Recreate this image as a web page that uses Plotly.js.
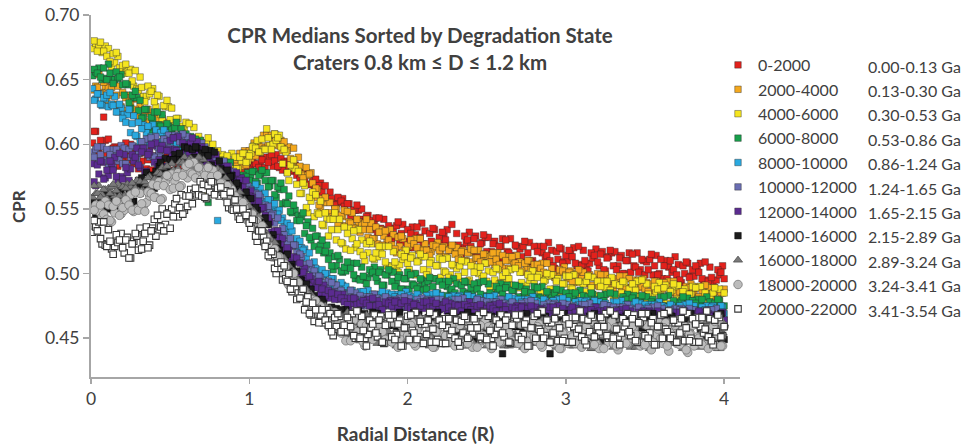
<!DOCTYPE html>
<html>
<head>
<meta charset="utf-8">
<script src="https://cdn.plot.ly/plotly-3.0.1.min.js"></script>
<style>html,body{margin:0;padding:0;background:#fff;}#chart{width:968px;height:446px;}</style>
</head>
<body>
<div id="chart"></div>
<script>
// Radial sampling: points every 0.01 R. "Even" arrays sit at 0.02,0.04,...,4.00;
// "Mid" arrays sit at 0.01,0.03,...,3.99.
const radialStep = 0.02;
const pointCount = 200;

// Legend labels
const stateNames = ['0-2000','2000-4000','4000-6000','6000-8000','8000-10000','10000-12000','12000-14000','14000-16000','16000-18000','18000-20000','20000-22000'];
const ageRanges = ['0.00-0.13 Ga','0.13-0.30 Ga','0.30-0.53 Ga','0.53-0.86 Ga','0.86-1.24 Ga','1.24-1.65 Ga','1.65-2.15 Ga','2.15-2.89 Ga','2.89-3.24 Ga','3.24-3.41 Ga','3.41-3.54 Ga'];

// CPR medians (x1000)
const cpr0_2000 = [
610,596,603,621,593, 590,597,584,593,597, 601,590,585,594,581, 587,598,588,580,591,
588,577,590,582,577, 580,590,592,579,584, 589,583,577,589,573, 578,570,584,582,577,
582,574,580,585,577, 578,584,578,585,588, 590,585,582,588,582, 586,592,587,583,589,
586,578,586,580,576, 573,578,578,569,572, 573,568,563,568,557, 558,553,559,556,552,
554,544,549,553,542, 540,544,535,541,543, 543,534,530,537,527, 529,540,531,524,534,
531,520,536,528,523, 519,531,535,522,528, 532,526,521,538,518, 522,513,529,526,521,
527,513,523,530,517, 514,523,511,521,527, 526,516,512,522,510, 513,525,516,509,521,
517,507,521,514,510, 506,517,520,508,514, 518,513,508,521,506, 510,502,516,514,509,
515,503,512,518,506, 503,512,500,510,516, 515,505,501,511,499, 503,515,506,499,511,
506,496,510,503,499, 495,506,509,497,503, 506,501,496,509,494, 497,489,503,501,496];
const cpr0_2000Mid = [
601,610,593,602,603, 604,591,598,583,591, 587,591,600,586,592, 593,594,581,595,580,
578,591,585,580,591, 592,577,583,590,579, 581,586,589,574,574, 586,574,576,580,587,
576,584,573,581,584, 587,580,586,579,585, 581,585,591,584,589, 590,590,583,592,582,
580,587,583,579,584, 580,571,573,577,569, 568,569,570,559,558, 563,555,554,555,558,
548,554,542,549,549, 550,540,545,534,539, 532,535,542,531,535, 535,537,525,538,525,
520,536,530,526,539, 533,517,525,534,523, 523,529,534,518,519, 531,517,520,524,532,
517,529,512,524,528, 528,517,525,511,521, 512,517,527,514,521, 519,521,509,524,510,
507,521,516,512,524, 518,504,511,519,509, 510,516,520,506,507, 518,506,508,512,519,
506,517,502,513,516, 517,506,514,500,510, 501,506,516,503,510, 509,511,499,514,500,
496,510,505,501,513, 507,493,500,508,498, 498,504,508,494,495, 505,493,495,499,506];
const cpr2000_4000 = [
656,644,639,648,634, 638,648,638,630,640, 636,624,636,627,621, 617,626,627,613,617,
620,613,606,617,600, 604,595,607,603,597, 602,588,596,601,587, 583,591,578,587,592,
590,583,580,587,578, 583,593,588,584,595, 596,591,602,598,597, 599,607,608,599,603,
602,595,589,597,582, 583,574,582,577,570, 566,553,558,559,547, 544,550,539,545,549,
548,539,535,542,532, 534,542,534,527,536, 532,522,533,526,522, 519,528,529,518,522,
526,523,520,527,518, 518,514,522,521,518, 520,513,518,522,515, 511,517,510,516,519,
518,512,509,515,508, 509,516,511,507,514, 510,504,513,508,506, 502,508,510,503,507,
507,504,501,508,499, 499,495,503,502,499, 501,494,499,503,496, 492,498,491,497,500,
499,493,490,496,489, 491,498,493,489,496, 492,486,495,490,488, 486,492,494,487,491,
493,490,487,494,485, 486,482,490,489,486, 489,482,487,491,484, 480,486,479,485,488];
const cpr2000_4000Mid = [
642,645,654,640,645, 644,644,631,645,629, 626,638,631,625,635, 629,613,618,624,612,
612,616,618,602,601, 612,598,599,602,607, 593,602,586,596,597, 597,585,592,577,586,
580,583,590,581,586, 587,590,583,595,587, 589,601,599,597,607, 607,597,602,607,599,
595,597,598,585,583, 590,577,576,576,578, 559,565,550,555,555, 555,545,550,538,544,
537,540,547,536,540, 538,539,528,539,527, 523,534,529,524,534, 530,516,521,527,517,
521,524,527,518,519, 523,516,517,520,524, 515,521,512,519,521, 520,513,518,510,516,
509,512,518,511,515, 513,514,507,516,507, 504,513,510,507,514, 509,501,505,510,504,
502,505,508,499,500, 504,497,498,501,505, 496,502,493,500,502, 501,494,499,491,497,
490,493,499,492,496, 495,496,489,498,489, 486,495,492,489,496, 493,485,489,494,488,
488,491,494,485,486, 491,484,485,488,492, 484,490,481,488,490, 489,482,487,479,485];
const cpr4000_6000 = [
680,672,679,672,668, 664,670,671,659,661, 662,655,649,657,642, 644,633,645,641,633,
638,623,630,634,619, 614,620,606,614,617, 616,604,598,606,592, 560,605,594,585,595,
588,578,591,583,579, 581,590,593,586,591, 598,597,594,604,596, 605,596,608,605,598,
596,578,584,588,569, 562,570,551,559,563, 561,546,538,547,529, 534,547,534,524,536,
531,518,533,523,517, 514,523,525,512,516, 521,515,509,521,505, 509,501,515,513,508,
512,500,509,515,503, 499,508,496,506,512, 511,501,497,507,495, 498,510,501,494,506,
501,491,505,498,494, 490,501,504,492,498, 501,496,491,504,489, 493,485,499,497,492,
497,485,494,500,488, 485,494,482,492,498, 498,488,484,494,482, 486,498,489,482,494,
490,480,494,487,483, 480,491,494,482,488, 492,487,482,495,480, 484,476,490,488,483,
489,477,486,492,480, 477,486,474,484,490, 489,479,475,485,473, 477,489,480,473,485];
const cpr4000_6000Mid = [
674,678,676,671,676, 674,660,663,668,657, 655,657,658,645,643, 652,637,637,639,643,
629,637,620,629,629, 628,614,620,604,611, 602,605,613,598,603, 601,601,587,600,584,
578,592,586,582,593, 590,581,587,593,587, 593,599,603,594,596, 612,599,600,603,607,
585,594,572,582,581, 579,562,568,547,556, 544,547,556,537,543, 542,542,526,542,523,
519,535,527,520,534, 526,510,516,523,511, 513,518,521,506,506, 517,505,507,511,518,
503,514,499,510,513, 513,502,510,496,506, 497,502,512,499,506, 504,506,494,509,495,
491,505,500,496,508, 502,488,495,503,493, 493,499,503,489,490, 501,489,491,495,502,
488,499,484,495,498, 499,488,496,482,492, 484,489,499,486,493, 492,494,482,497,483,
480,494,489,485,497, 492,478,485,493,483, 484,490,494,480,481, 492,480,482,486,493,
480,491,476,487,490, 491,480,488,474,484, 475,480,490,477,484, 483,485,473,488,474];
const cpr6000_8000 = [
658,655,652,659,650, 655,647,656,652,646, 647,632,638,641,626, 620,627,613,621,625,
625,614,608,616,603, 606,617,606,597,608, 604,592,604,595,589, 585,555,595,581,585,
587,580,574,586,569, 572,568,576,575,572, 579,571,576,580,572, 567,572,561,567,570,
565,554,548,553,541, 541,547,537,528,535, 529,518,526,517,511, 506,513,514,502,505,
509,504,499,508,495, 498,492,503,501,497, 501,491,499,503,494, 490,497,488,496,501,
499,491,488,496,487, 488,497,490,484,494, 491,483,494,488,485, 482,491,494,484,489,
492,488,484,494,482, 485,479,490,488,484, 489,479,487,491,482, 479,486,477,485,490,
489,481,478,486,477, 479,488,481,475,485, 482,474,485,479,476, 473,482,485,475,480,
483,479,475,485,473, 477,471,482,480,476, 481,471,479,483,474, 471,478,469,477,482,
482,474,471,479,470, 473,482,475,469,479, 477,469,480,474,471, 468,477,480,470,475];
const cpr6000_8000Mid = [
653,656,659,650,651, 662,650,650,651,654, 638,646,628,636,636, 634,621,627,611,619,
611,615,623,609,614, 612,613,599,612,597, 594,606,599,593,603, 597,581,586,592,580,
579,583,586,571,570, 577,570,571,574,578, 574,579,570,577,578, 578,568,572,559,565,
554,555,560,547,549, 545,544,531,540,526, 521,529,522,516,522, 516,503,506,511,501,
502,506,508,496,496, 505,495,497,500,505, 494,503,491,499,502, 501,493,499,488,496,
488,492,500,490,495, 492,494,484,496,485, 483,494,490,487,496, 492,481,486,493,485,
485,490,493,482,483, 492,482,484,487,492, 482,491,479,487,490, 490,482,488,477,485,
478,482,490,480,485, 483,485,475,487,476, 474,485,481,478,487, 483,472,477,484,476,
476,481,484,473,474, 484,474,476,479,484, 474,483,471,479,482, 482,474,480,469,477,
471,475,483,473,478, 477,479,469,481,470, 469,480,476,473,482, 478,467,472,479,471];
const cpr8000_10000 = [
634,639,631,636,638, 640,630,625,631,620, 617,627,616,607,617, 612,601,614,606,601,
599,609,611,598,603, 607,601,595,607,591, 594,585,597,593,587, 591,577,584,588,541,
571,575,566,572,574, 574,567,563,568,560, 563,569,562,556,562, 557,548,554,546,541,
536,539,537,526,527, 525,518,512,516,503, 504,497,503,500,494, 496,488,491,493,485,
483,487,480,484,486, 486,481,479,484,478, 479,486,481,477,484, 482,477,484,480,478,
476,482,484,477,480, 483,480,478,485,477, 478,474,482,480,478, 482,475,480,483,477,
475,480,473,478,482, 482,477,475,480,474, 475,482,477,473,480, 478,473,480,476,474,
472,478,480,473,476, 479,476,474,481,473, 474,470,478,476,474, 478,471,476,479,473,
471,476,469,474,478, 478,473,471,476,470, 471,478,473,469,476, 474,469,476,472,470,
468,474,476,469,472, 475,472,470,477,469, 470,466,474,472,470, 474,467,472,475,469];
const cpr8000_10000Mid = [
643,635,639,630,635, 629,631,637,625,628, 623,623,609,622,606, 602,615,609,604,615,
611,596,602,609,598, 599,604,607,592,592, 602,588,589,592,597, 582,591,574,583,584,
581,571,576,565,570, 565,567,572,564,567, 567,566,558,566,555, 551,557,551,545,549,
543,532,532,533,524, 520,520,519,506,504, 509,499,498,499,500, 491,496,485,491,491,
490,483,487,478,483, 479,481,487,480,484, 483,484,477,485,478, 477,484,482,479,486,
483,475,479,483,478, 479,482,484,477,477, 483,476,477,480,483, 477,483,475,481,482,
482,476,481,473,479, 475,477,483,476,480, 479,480,473,481,474, 473,480,478,475,482,
479,471,475,479,474, 475,478,480,473,473, 479,472,473,476,479, 473,479,471,477,478,
478,472,477,469,475, 471,473,479,472,476, 475,476,469,477,470, 469,476,474,471,478,
475,467,471,475,470, 471,474,476,469,469, 475,468,469,472,475, 469,475,467,473,474];
const cpr10000_12000 = [
590,598,592,587,596, 592,582,596,589,585, 585,596,599,587,593, 602,597,592,605,590,
598,590,604,602,597, 605,593,602,608,596, 592,600,587,596,601, 598,590,585,590,580,
582,587,580,574,579, 574,565,572,565,560, 558,562,561,551,553, 552,545,539,543,530,
530,523,527,522,516, 515,505,507,508,498, 495,498,490,493,494, 493,486,483,487,479,
480,487,481,476,483, 480,475,482,478,476, 474,480,482,475,478, 480,477,475,482,474,
476,472,480,478,476, 479,472,477,480,474, 473,478,471,476,480, 480,475,473,478,472,
473,480,475,471,478, 476,471,478,474,472, 470,476,478,471,474, 477,474,472,479,471,
472,468,476,474,472, 476,469,474,477,471, 469,474,467,472,476, 476,471,469,474,468,
469,476,471,467,474, 472,467,474,470,468, 466,472,474,467,470, 473,470,468,475,467,
468,464,472,470,468, 472,465,470,473,467, 465,470,463,468,472, 472,467,465,444,464];
const cpr10000_12000Mid = [
594,596,587,598,588, 582,596,591,587,599, 597,583,590,598,588, 594,600,604,590,591,
606,594,596,600,607, 596,607,592,603,606, 606,594,601,586,595, 588,589,595,585,588,
586,585,576,583,572, 568,574,569,564,568, 565,555,556,559,550, 547,547,546,533,531,
535,525,522,521,522, 510,513,501,505,504, 502,494,497,487,491, 486,486,491,483,485,
484,484,477,485,477, 475,482,480,477,484, 481,473,477,481,476, 476,479,481,474,474,
481,474,475,478,481, 474,480,472,478,479, 480,474,479,471,477, 473,475,481,474,478,
477,478,471,479,472, 471,478,476,473,480, 477,469,473,477,472, 473,476,478,471,471,
477,470,471,474,477, 471,477,469,475,476, 476,470,475,467,473, 469,471,477,470,474,
473,474,467,475,468, 467,474,472,469,476, 473,465,469,473,468, 469,472,474,467,467,
473,466,467,470,473, 467,473,465,471,472, 472,466,471,463,469, 465,467,473,466,470];
const cpr12000_14000 = [
571,584,587,573,580, 587,580,575,593,573, 582,572,592,590,584, 594,579,592,600,586,
584,596,582,595,603, 605,595,591,601,589, 594,605,595,587,598, 593,584,593,585,581,
577,583,583,573,575, 578,572,567,572,560, 559,552,556,551,545, 543,532,533,533,522,
518,520,510,513,512, 508,501,496,498,490, 489,494,488,483,487, 485,480,484,481,478,
476,481,481,476,477, 479,477,475,481,475, 476,472,478,477,475, 478,473,477,479,474,
473,476,471,475,478, 478,474,473,477,472, 473,478,474,471,476, 475,471,476,474,472,
470,475,476,471,473, 475,473,471,477,471, 472,468,474,473,471, 474,469,473,475,470,
469,472,467,471,474, 474,470,469,473,468, 469,474,470,467,472, 471,467,472,470,468,
466,471,472,467,469, 471,469,467,473,467, 468,464,470,469,467, 470,465,469,471,466,
465,468,463,467,470, 470,466,465,469,464, 466,471,467,464,469, 467,463,468,466,464];
const cpr12000_14000Mid = [
585,568,577,586,574, 576,585,590,572,575, 592,578,581,587,597, 582,597,579,594,599,
601,588,599,583,596, 591,596,606,593,600, 600,601,588,602,587, 585,594,589,585,592,
586,574,577,580,571, 573,573,574,563,561, 564,554,551,550,551, 538,540,527,530,528,
527,517,518,506,509, 501,500,504,495,496, 493,492,484,491,482, 481,485,482,480,484,
481,474,477,480,475, 476,479,480,475,475, 479,474,475,476,479, 474,479,473,477,478,
478,474,477,471,475, 473,475,479,473,476, 475,476,471,477,472, 471,476,474,473,478,
475,469,472,475,471, 472,475,476,471,471, 475,470,471,472,475, 470,475,469,473,474,
474,470,473,467,471, 469,471,475,469,472, 471,472,467,473,468, 467,472,470,469,474,
471,465,468,471,467, 468,471,472,467,467, 471,466,467,468,471, 466,471,465,469,470,
470,466,469,463,467, 465,467,471,465,468, 468,469,464,470,465, 463,468,466,465,470];
const cpr14000_16000 = [
549,543,556,556,552, 558,549,558,564,554, 555,565,555,565,572, 574,566,565,576,566,
573,586,580,576,588, 588,580,593,588,586, 586,596,598,588,593, 596,591,584,594,580,
581,573,580,575,569, 570,558,561,563,551, 548,551,539,542,543, 538,527,520,523,510,
510,515,505,496,502, 495,485,492,484,478, 474,480,480,469,472, 474,469,464,472,460,
462,451,469,465,458, 467,451,463,470,455, 451,463,447,460,468, 468,455,450,463,448,
454,470,458,449,465, 461,448,466,457,451, 449,463,467,451,459, 466,459,453,470,450,
457,446,465,462,455, 465,449,461,468,438, 450,462,446,459,467, 467,454,449,462,447,
453,469,457,448,438, 460,447,465,456,450, 448,462,466,450,458, 465,458,452,469,449,
456,445,464,461,454, 464,448,460,467,452, 449,461,445,458,466, 467,454,449,462,447,
453,469,457,448,464, 460,447,465,456,450, 448,462,466,450,458, 465,458,452,469,449];
const cpr14000_16000Mid = [
556,546,549,554,561, 550,561,549,560,563, 567,559,568,556,567, 562,567,578,568,576,
579,583,574,589,579, 579,592,589,586,598, 597,584,590,597,588, 589,594,595,581,580,
587,575,574,574,576, 563,568,554,559,558, 558,547,549,535,539, 528,527,530,517,518,
514,513,500,507,494, 488,495,489,483,488, 483,471,474,477,468, 469,471,473,462,460,
472,456,458,463,471, 455,469,450,464,468, 469,455,466,447,460, 450,457,470,453,462,
462,465,449,468,450, 448,466,459,454,470, 465,446,455,466,453, 455,463,468,450,451,
467,451,454,459,468, 453,467,448,462,466, 468,454,465,446,459, 449,456,469,452,461,
461,464,448,467,449, 447,465,458,453,469, 464,445,454,465,452, 454,462,467,449,450,
466,450,453,458,467, 452,466,447,461,465, 467,453,464,445,458, 449,456,469,452,461,
461,464,448,467,449, 447,465,458,453,469, 464,445,454,465,452, 454,462,467,449,450];
const cpr16000_18000 = [
568,562,559,565,558, 562,569,564,560,567, 566,560,570,566,564, 564,571,574,568,573,
578,577,575,583,576, 580,577,586,586,584, 588,581,586,590,583, 579,584,575,579,581,
579,570,565,569,559, 559,563,555,548,552, 548,539,544,535,530, 524,526,524,513,513,
512,506,499,502,490, 490,483,488,484,478, 479,470,473,475,466, 462,467,457,464,467,
470,458,452,463,448, 453,468,457,449,463, 458,446,463,455,450, 447,460,463,449,456,
462,456,450,466,448, 454,444,461,459,453, 461,447,457,465,450, 448,459,444,456,463,
464,452,447,459,444, 450,465,454,446,460, 456,444,461,453,448, 446,459,462,448,455,
461,455,449,465,447, 453,443,460,458,452, 460,446,456,464,449, 446,457,442,454,461,
463,451,446,458,443, 449,464,453,445,459, 455,443,460,452,447, 445,458,461,447,454,
460,454,448,464,446, 452,442,459,457,451, 459,445,455,463,448, 446,457,442,454,461];
const cpr16000_18000Mid = [
559,562,568,561,565, 566,567,560,569,560, 560,569,567,565,572, 571,564,569,575,570,
573,578,582,574,577, 585,579,581,585,590, 583,589,580,587,589, 588,580,583,573,578,
570,570,574,565,566, 563,561,551,557,545, 542,548,541,534,538, 531,519,519,520,510,
507,507,506,493,491, 495,485,483,483,484, 474,478,467,472,472, 473,463,468,456,462,
453,458,470,454,462, 461,463,449,467,450, 446,463,457,452,467, 461,444,453,462,450,
453,460,465,448,449, 463,449,451,456,465, 450,463,445,459,462, 465,451,461,444,456,
447,453,465,449,458, 458,460,446,464,447, 444,461,455,450,465, 460,443,452,461,449,
452,459,464,447,448, 462,448,450,455,464, 449,462,444,458,461, 463,449,459,442,454,
446,452,464,448,457, 457,459,445,463,446, 443,460,454,449,464, 459,442,451,460,448,
451,458,463,446,447, 461,447,449,454,463, 448,461,443,458,461, 463,449,459,442,454];
const cpr18000_20000 = [
549,539,553,546,542, 541,552,556,545,551, 557,553,549,563,549, 554,548,563,562,559,
568,557,568,576,565, 566,575,567,576,583, 585,577,574,582,573, 576,582,575,569,576,
570,560,568,561,555, 551,556,555,543,545, 546,540,532,537,524, 522,513,519,513,506,
508,495,498,500,487, 483,486,475,479,480, 479,470,465,470,459, 460,470,461,454,463,
460,448,464,455,450, 447,460,463,449,456, 461,455,449,465,447, 453,443,460,458,452,
460,446,456,464,449, 447,458,443,455,462, 464,452,447,459,444, 449,465,454,446,461,
455,443,460,452,447, 445,458,461,447,454, 460,454,448,464,446, 452,442,459,457,451,
459,445,455,463,447, 446,457,442,454,461, 463,451,446,458,443, 449,464,453,445,459,
454,442,459,451,446, 444,457,460,446,453, 459,453,447,463,445, 451,441,459,457,450,
458,444,454,462,446, 445,457,441,453,460, 462,450,445,457,442, 447,463,452,444,459];
const cpr18000_20000Mid = [
539,553,548,544,556, 553,540,547,555,546, 549,556,561,548,550, 562,552,555,560,569,
559,571,558,571,575, 577,571,578,568,578, 574,578,586,576,581, 580,580,570,580,568,
563,570,565,560,565, 560,547,549,551,541, 541,542,541,527,524, 528,515,513,512,513,
501,505,491,496,494, 493,482,485,472,476, 469,470,475,464,467, 466,467,455,467,454,
448,465,458,453,467, 461,444,453,462,450, 452,459,464,447,448, 462,448,450,455,464,
449,462,444,458,461, 464,450,460,443,455, 447,453,465,449,458, 458,460,446,464,447,
443,460,454,448,464, 459,442,451,460,447, 451,458,463,446,446, 461,446,448,454,463,
448,461,443,457,460, 463,449,460,442,454, 446,452,464,448,458, 457,459,445,463,446,
442,460,453,447,463, 458,441,450,460,446, 450,458,462,444,445, 460,445,447,453,462,
446,462,440,457,460, 464,447,459,439,453, 444,451,465,446,457, 457,459,444,464,444];
const cpr20000_22000 = [
541,533,527,540,521, 525,515,530,526,520, 526,512,523,531,518, 519,531,520,533,542,
545,536,533,546,535, 544,558,551,546,560, 560,554,566,561,560, 559,568,571,561,566,
567,561,555,563,549, 550,542,550,545,539, 542,529,533,533,521, 514,517,504,508,509,
506,494,488,493,480, 481,488,478,469,477, 472,462,472,464,460, 455,466,469,455,460,
466,459,452,471,450, 456,444,464,461,454, 464,447,460,468,451, 449,461,444,458,467,
468,454,449,463,446, 453,470,457,447,464, 460,446,465,456,450, 447,463,467,450,458,
465,458,451,470,449, 456,444,464,461,454, 464,447,460,468,451, 449,461,444,458,467,
469,455,450,464,447, 454,471,458,448,465, 461,447,466,457,451, 448,464,468,451,459,
466,459,452,471,450, 457,445,465,462,455, 465,448,462,469,452, 450,462,445,459,468,
469,455,450,464,447, 454,471,458,448,465, 461,447,466,457,451, 448,464,468,451,459];
const cpr20000_22000Mid = [
532,536,540,523,522, 534,519,521,524,531, 516,528,512,525,529, 535,525,536,522,535,
529,537,550,538,547, 550,554,544,561,549, 552,565,562,560,571, 569,558,563,570,562,
560,563,564,551,550, 557,544,544,545,547, 535,541,525,529,529, 525,513,515,500,504,
495,496,500,486,488, 485,485,472,482,468, 463,473,468,462,472, 469,452,459,467,455,
455,464,469,450,451, 467,450,453,458,468, 451,467,446,461,465, 468,453,464,444,458,
449,456,470,451,461, 461,464,447,468,449, 446,465,458,453,470, 464,444,454,465,451,
454,463,468,449,450, 467,450,453,458,468, 451,467,446,461,465, 468,453,464,444,458,
450,457,471,452,462, 462,465,448,469,450, 447,466,459,454,471, 465,445,455,466,452,
455,464,469,450,451, 468,451,454,459,469, 452,468,447,462,466, 469,454,465,445,459,
450,457,471,452,462, 462,465,448,469,450, 447,466,459,454,471, 465,445,455,466,452];

const cprTickVals = [0.45, 0.50, 0.55, 0.60, 0.65, 0.70];
const radialTickVals = [0, 1, 2, 3, 4];

// ---- styling (not data) ----
const seriesEven = [cpr0_2000, cpr2000_4000, cpr4000_6000, cpr6000_8000, cpr8000_10000,
  cpr10000_12000, cpr12000_14000, cpr14000_16000, cpr16000_18000, cpr18000_20000, cpr20000_22000];
const seriesMid = [cpr0_2000Mid, cpr2000_4000Mid, cpr4000_6000Mid, cpr6000_8000Mid, cpr8000_10000Mid,
  cpr10000_12000Mid, cpr12000_14000Mid, cpr14000_16000Mid, cpr16000_18000Mid, cpr18000_20000Mid, cpr20000_22000Mid];
const edge = 'rgba(40,40,40,0.7)';
const styles = [
  {symbol:'square', size:6.5, color:'#e3211c', line:{color:edge, width:0.6}},
  {symbol:'square', size:6.5, color:'#f4a81d', line:{color:edge, width:0.6}},
  {symbol:'square', size:6.5, color:'#f5e51f', line:{color:edge, width:0.6}},
  {symbol:'square', size:6.5, color:'#17a04b', line:{color:edge, width:0.6}},
  {symbol:'square', size:6.5, color:'#29a9e0', line:{color:edge, width:0.6}},
  {symbol:'square', size:6.5, color:'#6a6eb3', line:{color:edge, width:0.6}},
  {symbol:'square', size:6.5, color:'#5b2b90', line:{color:edge, width:0.6}},
  {symbol:'square', size:6.5, color:'#1c1c1c', line:{color:'#000', width:0.5}},
  {symbol:'triangle-up', size:8, color:'#7a7a7a', line:{color:'#474747', width:0.7}},
  {symbol:'circle', size:8.5, color:'#bcbcbc', line:{color:'#777777', width:0.8}},
  {symbol:'square', size:6.5, color:'#ffffff', line:{color:'#383838', width:1.1}}
];

const radialEven = [], radialMid = [];
for (let i = 0; i < pointCount; i++) {
  radialEven.push(+((i + 1) * radialStep).toFixed(2));
  radialMid.push(+((i + 0.5) * radialStep).toFixed(2));
}

const traces = seriesEven.map((vals, k) => ({
  type: 'scatter', mode: 'markers', name: stateNames[k], legendgroup: 'g' + k,
  x: radialMid.concat(radialEven),
  y: seriesMid[k].concat(vals).map(v => v / 1000),
  marker: styles[k], hoverinfo: 'x+y+name'
}));

// plot-area geometry helpers for legend/annotation placement
const L = 91, R = 740, T = 15, B = 377;
const px2x = px => (px - L) / (R - L);
const py2y = py => 1 - (py - T) / (B - T);
const rowY = i => py2y(66 + 24.4 * i);

const annotations = ageRanges.map((t, i) => ({
  text: t, xref: 'paper', yref: 'paper', x: px2x(866), y: rowY(i),
  xanchor: 'left', yanchor: 'middle', showarrow: false,
  font: {size: 16, color: '#404040'}
}));
annotations.push({
  text: '<b>CPR</b>', xref: 'paper', yref: 'paper', x: px2x(18), y: py2y(207),
  xanchor: 'center', yanchor: 'middle', textangle: -90, showarrow: false,
  font: {size: 17, color: '#404040'}
});

const layout = {
  width: 968, height: 446,
  margin: {l: L, r: 968 - R, t: T, b: 446 - B, pad: 0},
  paper_bgcolor: '#ffffff', plot_bgcolor: '#ffffff',
  font: {family: 'Lato, "Open Sans", sans-serif', color: '#404040'},
  title: {
    text: '<b>CPR Medians Sorted by Degradation State</b><br><b>Craters 0.8 km ≤ D ≤ 1.2 km</b>',
    xref: 'container', yref: 'container', x: 420 / 968, xanchor: 'center',
    y: 1 - 43 / 446, yanchor: 'top', font: {size: 20.5, color: '#404040'}
  },
  xaxis: {
    range: [0, 4.1], tickvals: radialTickVals, ticktext: radialTickVals.map(String),
    ticks: 'outside', ticklen: 5, tickwidth: 1.5, tickcolor: '#a6a6a6',
    showline: true, linecolor: '#a6a6a6', linewidth: 2, showgrid: false, zeroline: false,
    tickfont: {size: 17.5, color: '#404040'},
    title: {text: '<b>Radial Distance (R)</b>', font: {size: 19, color: '#404040'}, standoff: 20}
  },
  yaxis: {
    range: [0.42, 0.70], tickvals: cprTickVals, ticktext: cprTickVals.map(v => v.toFixed(2)),
    ticks: 'outside', ticklen: 6, tickwidth: 1.5, tickcolor: '#a6a6a6',
    showline: true, linecolor: '#a6a6a6', linewidth: 2, showgrid: false, zeroline: false,
    tickfont: {size: 17.5, color: '#404040'}
  },
  showlegend: true,
  legend: {
    x: px2x(718), xanchor: 'left', y: py2y(48), yanchor: 'top',
    bgcolor: 'rgba(0,0,0,0)', borderwidth: 0, itemwidth: 30,
    font: {size: 16, color: '#404040'}, tracegroupgap: 0.6, traceorder: 'grouped'
  },
  annotations: annotations
};

Plotly.newPlot('chart', traces, layout, {displayModeBar: false, staticPlot: true});
</script>
</body>
</html>
